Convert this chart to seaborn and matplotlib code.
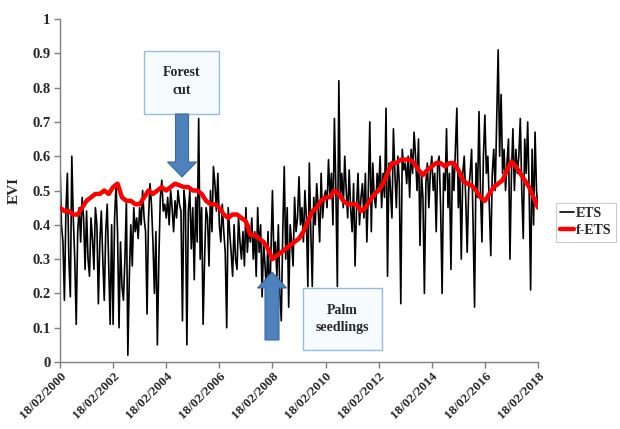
import numpy as np
import pandas as pd
import matplotlib
matplotlib.use("Agg")
import matplotlib.pyplot as plt
import matplotlib.dates as mdates
from matplotlib.patches import FancyArrow, Rectangle
import seaborn as sns

# ---------------- data ----------------
start_date = "2000-02-18"
end_date = "2018-02-18"

ets_2000_2005 = [
    0.58, 0.40, 0.35, 0.18, 0.44, 0.55, 0.30, 0.19, 0.60, 0.42, 0.30, 0.11, 0.38, 0.45, 0.35, 0.48, 0.42, 0.27,
    0.44, 0.30, 0.25, 0.42, 0.36, 0.27, 0.45, 0.40, 0.17, 0.35, 0.44, 0.30, 0.18, 0.38, 0.46, 0.28, 0.11, 0.40,
    0.11, 0.42, 0.52, 0.38, 0.10, 0.35, 0.22, 0.18, 0.30, 0.47, 0.02, 0.25, 0.40, 0.28, 0.45, 0.38, 0.42, 0.36,
    0.45, 0.40, 0.50, 0.42, 0.38, 0.14, 0.42, 0.52, 0.46, 0.35, 0.20, 0.38, 0.05, 0.30, 0.48, 0.53, 0.44, 0.46,
    0.42, 0.48, 0.40, 0.50, 0.45, 0.38, 0.47, 0.42, 0.50, 0.46, 0.44, 0.12, 0.50, 0.46, 0.05, 0.44, 0.50, 0.33,
    0.45, 0.24, 0.48, 0.35, 0.71, 0.30, 0.45, 0.11, 0.30, 0.45, 0.42, 0.28, 0.50, 0.38, 0.57, 0.52, 0.44, 0.55,
]
ets_2006_2011 = [
    0.40, 0.35, 0.46, 0.38, 0.32, 0.10, 0.45, 0.38, 0.32, 0.25, 0.40, 0.30, 0.27, 0.42, 0.35, 0.30, 0.38, 0.28,
    0.45, 0.32, 0.40, 0.35, 0.42, 0.30, 0.38, 0.25, 0.45, 0.32, 0.40, 0.19, 0.35, 0.28, 0.20, 0.38, 0.15, 0.33,
    0.50, 0.30, 0.35, 0.25, 0.40, 0.20, 0.12, 0.38, 0.57, 0.30, 0.45, 0.16, 0.40, 0.35, 0.28, 0.48, 0.38, 0.42,
    0.54, 0.40, 0.45, 0.35, 0.50, 0.42, 0.22, 0.58, 0.38, 0.22, 0.48, 0.40, 0.52, 0.45, 0.35, 0.55, 0.42, 0.48,
    0.50, 0.45, 0.59, 0.48, 0.55, 0.40, 0.71, 0.50, 0.22, 0.82, 0.48, 0.55, 0.45, 0.60, 0.50, 0.42, 0.56, 0.45,
    0.38, 0.52, 0.28, 0.45, 0.55, 0.40, 0.48, 0.52, 0.42, 0.55, 0.35, 0.50, 0.70, 0.38, 0.58, 0.48, 0.45, 0.55,
]
ets_2012_2018 = [
    0.50, 0.60, 0.45, 0.55, 0.48, 0.74, 0.25, 0.58, 0.50, 0.42, 0.68, 0.55, 0.45, 0.60, 0.52, 0.17, 0.62, 0.56,
    0.58, 0.52, 0.60, 0.48, 0.62, 0.55, 0.67, 0.60, 0.50, 0.65, 0.34, 0.55, 0.48, 0.20, 0.52, 0.58, 0.45, 0.55,
    0.60, 0.50, 0.55, 0.38, 0.58, 0.60, 0.45, 0.20, 0.55, 0.50, 0.68, 0.45, 0.55, 0.27, 0.58, 0.50, 0.62, 0.74,
    0.45, 0.55, 0.30, 0.55, 0.60, 0.48, 0.32, 0.50, 0.55, 0.62, 0.40, 0.16, 0.58, 0.48, 0.73, 0.50, 0.35, 0.60,
    0.72, 0.55, 0.60, 0.45, 0.31, 0.55, 0.62, 0.50, 0.70, 0.91, 0.60, 0.78, 0.55, 0.62, 0.50, 0.58, 0.65, 0.30,
    0.55, 0.68, 0.50, 0.62, 0.55, 0.60, 0.71, 0.50, 0.36, 0.65, 0.55, 0.70, 0.50, 0.21, 0.62, 0.40, 0.67, 0.50,
    0.45,
]
fets = [
    0.45, 0.44, 0.44, 0.43, 0.43, 0.45,
    0.47, 0.48, 0.49, 0.49, 0.50, 0.49,
    0.51, 0.52, 0.48, 0.47, 0.47, 0.46,
    0.46, 0.48, 0.50, 0.49, 0.50, 0.51,
    0.50, 0.51, 0.52, 0.515, 0.51, 0.51,
    0.50, 0.50, 0.49, 0.47, 0.46, 0.46,
    0.45, 0.43, 0.42, 0.43, 0.43, 0.42,
    0.41, 0.37, 0.37, 0.36, 0.35, 0.33,
    0.30, 0.31, 0.32, 0.33, 0.34, 0.35,
    0.36, 0.38, 0.41, 0.44, 0.45, 0.47,
    0.48, 0.48, 0.50, 0.49, 0.47, 0.46,
    0.46, 0.46, 0.44, 0.45, 0.47, 0.49,
    0.50, 0.52, 0.55, 0.58, 0.58, 0.59,
    0.59, 0.59, 0.58, 0.56, 0.545, 0.56,
    0.57, 0.58, 0.58, 0.57, 0.58, 0.58,
    0.56, 0.53, 0.52, 0.515, 0.50, 0.48,
    0.47, 0.49, 0.51, 0.52, 0.53, 0.56,
    0.585, 0.57, 0.55, 0.53, 0.51, 0.48,
    0.45,
]
tick_years = [2000, 2002, 2004, 2006, 2008, 2010, 2012, 2014, 2016, 2018]
y_ticks = [0, 0.1, 0.2, 0.3, 0.4, 0.5, 0.6, 0.7, 0.8, 0.9, 1]
y_tick_labels = ["0", "0.1", "0.2", "0.3", "0.4", "0.5", "0.6", "0.7", "0.8", "0.9", "1"]

ets = ets_2000_2005 + ets_2006_2011 + ets_2012_2018
ets_dates = pd.date_range(start_date, end_date, periods=len(ets))
fets_dates = pd.date_range(start_date, end_date, periods=len(fets))
df_ets = pd.DataFrame({"date": ets_dates, "EVI": ets})
df_fets = pd.DataFrame({"date": fets_dates, "EVI": fets})

# ---------------- style ----------------
sns.set_style("white")
plt.rcParams["font.family"] = ["Liberation Serif", "DejaVu Serif"]
plt.rcParams["font.weight"] = "bold"

W, H = 620, 429
fig = plt.figure(figsize=(W / 100, H / 100), dpi=100)
ax = fig.add_axes([60 / W, 1 - 362 / H, (538 - 60) / W, (362 - 19) / H])

sns.lineplot(data=df_ets, x="date", y="EVI", ax=ax, color="black", lw=1.2, label="ETS", zorder=2)
sns.lineplot(data=df_fets, x="date", y="EVI", ax=ax, color="#ff0000", lw=3.2, label="f-ETS", zorder=3)

ax.set_xlim(pd.Timestamp(start_date), pd.Timestamp(end_date))
ax.set_ylim(0, 1)
ax.set_yticks(y_ticks)
ax.set_yticklabels(y_tick_labels, fontsize=10.5, fontweight="bold")
ax.set_xticks([pd.Timestamp(f"{y}-02-18") for y in tick_years])
ax.xaxis.set_major_formatter(mdates.DateFormatter("%d/%m/%Y"))
for lab in ax.get_xticklabels():
    lab.set_rotation(45)
    lab.set_ha("right")
    lab.set_rotation_mode("anchor")
    lab.set_fontsize(9.5)
    lab.set_fontweight("bold")
ax.set_xlabel("")
ax.set_ylabel("EVI", fontsize=11, fontweight="bold", labelpad=8)

for s in ["top", "right"]:
    ax.spines[s].set_visible(False)
for s in ["left", "bottom"]:
    ax.spines[s].set_color("#7f7f7f")
    ax.spines[s].set_linewidth(1.0)
ax.tick_params(axis="both", which="major", direction="out", length=4, width=1.0,
               color="#7f7f7f", left=True, bottom=True, pad=3)
ax.tick_params(axis="x", pad=2)

# legend
handles, labels = ax.get_legend_handles_labels()
ax.get_legend().remove()
leg = fig.legend(handles, labels, loc="upper left", bbox_to_anchor=(556 / W, 1 - 203 / H),
                 frameon=True, fancybox=False, edgecolor="#bfbfbf",
                 handlelength=1.0, handletextpad=0.15, borderpad=0.3, labelspacing=0.3,
                 borderaxespad=0.0, prop={"weight": "bold", "size": 10})
leg.get_frame().set_linewidth(0.8)

# ---------------- annotations (pixel-based, in inches) ----------------
tr = fig.dpi_scale_trans

def px(x, y):
    return x / 100, (H - y) / 100

box_edge = "#93bde0"
box_fill = "#f6fcfe"
arrow_col = "#4f81bd"
arrow_edge = "#3a6aa3"

# Forest cut box
bx, by = px(144, 114)
fig.patches.append(Rectangle((bx, by), 75 / 100, 63 / 100, transform=tr,
                             facecolor=box_fill, edgecolor=box_edge, lw=1.0, zorder=5))
fig.text(*px(182, 82), "Forest\ncut", transform=tr, ha="center", va="center",
         fontsize=10, fontweight="bold", linespacing=1.5, zorder=6)
# down arrow
x0, y0 = px(182, 114)
fig.patches.append(FancyArrow(x0, y0, 0, -(177 - 114) / 100, width=13 / 100,
                              head_width=29 / 100, head_length=15 / 100,
                              length_includes_head=True, transform=tr,
                              facecolor=arrow_col, edgecolor=arrow_edge, lw=0.8, zorder=6))

# Palm seedlings box
bx, by = px(303, 350)
fig.patches.append(Rectangle((bx, by), 79 / 100, 62 / 100, transform=tr,
                             facecolor=box_fill, edgecolor=box_edge, lw=1.0, zorder=5))
fig.text(*px(342, 319), "Palm\nseedlings", transform=tr, ha="center", va="center",
         fontsize=10, fontweight="bold", linespacing=1.5, zorder=6)
# up arrow
x0, y0 = px(272, 340)
fig.patches.append(FancyArrow(x0, y0, 0, (340 - 272) / 100, width=14 / 100,
                              head_width=29 / 100, head_length=16 / 100,
                              length_includes_head=True, transform=tr,
                              facecolor=arrow_col, edgecolor=arrow_edge, lw=0.8, zorder=6))

fig.savefig("out.png", dpi=100)
